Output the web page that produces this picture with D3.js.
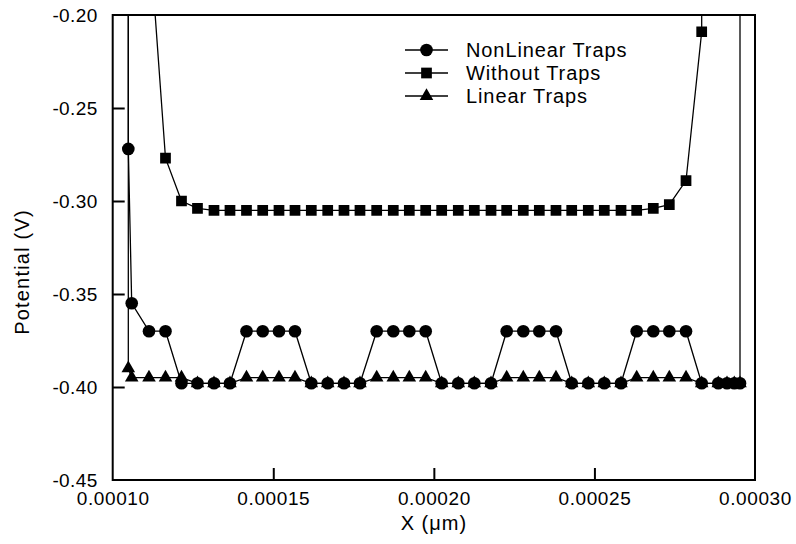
<!DOCTYPE html>
<html><head><meta charset="utf-8">
<script src="https://cdn.jsdelivr.net/npm/d3@7"></script>
<style>body{margin:0;background:#fff}svg{display:block}text{font-family:"Liberation Sans",Arial,sans-serif;fill:#000}</style>
</head><body><div id="c"></div>
<script>
// Data (x in µm units as labelled, y in V); 0.5 = value far above the visible range
const nonLinearX = [0.00010486,0.00010486,0.00010592,0.0001113,0.00011644,0.00012142,0.0001264,0.00013154,0.00013652,0.00014166,0.00014671,0.00015178,0.00015676,0.00016184,0.00016695,0.00017202,0.000177,0.0001822,0.00018737,0.00019236,0.00019746,0.00020244,0.00020761,0.0002126,0.0002178,0.00022268,0.00022785,0.00023284,0.00023803,0.00024293,0.00024809,0.00025307,0.00025828,0.00026316,0.00026833,0.00027332,0.00027852,0.0002834,0.00028857,0.00029128,0.00029355,0.00029533,0.00029533];
const nonLinearY = [0.5,-0.272,-0.355,-0.370,-0.370,-0.398,-0.398,-0.398,-0.398,-0.370,-0.370,-0.370,-0.370,-0.398,-0.398,-0.398,-0.398,-0.370,-0.370,-0.370,-0.370,-0.398,-0.398,-0.398,-0.398,-0.370,-0.370,-0.370,-0.370,-0.398,-0.398,-0.398,-0.398,-0.370,-0.370,-0.370,-0.370,-0.398,-0.398,-0.398,-0.398,-0.398,0.5];
const withoutX = [0.0001113,0.00011644,0.00012142,0.0001264,0.00013154,0.00013652,0.00014166,0.00014671,0.00015178,0.00015676,0.00016184,0.00016695,0.00017202,0.000177,0.0001822,0.00018737,0.00019236,0.00019746,0.00020244,0.00020761,0.0002126,0.0002178,0.00022268,0.00022785,0.00023284,0.00023803,0.00024293,0.00024809,0.00025307,0.00025828,0.00026316,0.00026833,0.00027332,0.00027852,0.0002834,0.0002836];
const withoutY = [-0.154,-0.277,-0.300,-0.304,-0.305,-0.305,-0.305,-0.305,-0.305,-0.305,-0.305,-0.305,-0.305,-0.305,-0.305,-0.305,-0.305,-0.305,-0.305,-0.305,-0.305,-0.305,-0.305,-0.305,-0.305,-0.305,-0.305,-0.305,-0.305,-0.305,-0.305,-0.304,-0.302,-0.289,-0.209,0.5];
const linearX = [0.00010486,0.00010486,0.00010592,0.0001113,0.00011644,0.00012142,0.0001264,0.00013154,0.00013652,0.00014166,0.00014671,0.00015178,0.00015676,0.00016184,0.00016695,0.00017202,0.000177,0.0001822,0.00018737,0.00019236,0.00019746,0.00020244,0.00020761,0.0002126,0.0002178,0.00022268,0.00022785,0.00023284,0.00023803,0.00024293,0.00024809,0.00025307,0.00025828,0.00026316,0.00026833,0.00027332,0.00027852,0.0002834,0.00028857,0.00029128,0.00029355,0.00029533];
const linearY = [0.5,-0.390,-0.395,-0.395,-0.395,-0.395,-0.398,-0.398,-0.398,-0.395,-0.395,-0.395,-0.395,-0.398,-0.398,-0.398,-0.398,-0.395,-0.395,-0.395,-0.395,-0.398,-0.398,-0.398,-0.398,-0.395,-0.395,-0.395,-0.395,-0.398,-0.398,-0.398,-0.398,-0.395,-0.395,-0.395,-0.395,-0.398,-0.398,-0.398,-0.398,-0.398];
const xTicks = [0.00010,0.00015,0.00020,0.00025,0.00030];
const yTicks = [-0.45,-0.40,-0.35,-0.30,-0.25,-0.20];
const seriesNames = ["NonLinear Traps","Without Traps","Linear Traps"];

const W=796,H=544, L=112.7, R=755, T=15, B=480;
const svg=d3.select("#c").append("svg").attr("width",W).attr("height",H);
const x=d3.scaleLinear().domain([0.0001,0.0003]).range([L,R]);
const y=d3.scaleLinear().domain([-0.45,-0.20]).range([B,T]);

svg.append("defs").append("clipPath").attr("id","clip").append("rect")
  .attr("x",L).attr("y",T).attr("width",R-L).attr("height",B-T);

const series=[
  {name:seriesNames[0], xs:nonLinearX, ys:nonLinearY, sym:d3.symbolCircle, size:125},
  {name:seriesNames[1], xs:withoutX, ys:withoutY, sym:d3.symbolSquare, size:115},
  {name:seriesNames[2], xs:linearX, ys:linearY, sym:d3.symbolTriangle, size:80}
];
const line=d3.line().x(d=>x(d[0])).y(d=>y(d[1]));
const g=svg.append("g").attr("clip-path","url(#clip)");
[2,1,0].forEach(i=>{
  const s=series[i];
  const pts=s.xs.map((v,k)=>[v,s.ys[k]]);
  g.append("path").datum(pts).attr("d",line).attr("fill","none").attr("stroke","#000").attr("stroke-width",1.3);
});
[2,1,0].forEach(i=>{
  const s=series[i];
  const pts=s.xs.map((v,k)=>[v,s.ys[k]]).filter(p=>p[1]<=-0.2);
  const sym=d3.symbol().type(s.sym).size(s.size);
  g.selectAll(null).data(pts).enter().append("path").attr("d",sym)
    .attr("transform",d=>`translate(${x(d[0])},${y(d[1])})`).attr("fill","#000");
});

// frame
svg.append("rect").attr("x",L).attr("y",T).attr("width",R-L).attr("height",B-T)
  .attr("fill","none").attr("stroke","#000").attr("stroke-width",2);

// axes with inward ticks
const xa=svg.append("g").attr("transform",`translate(0,${B})`)
  .call(d3.axisBottom(x).tickValues(xTicks).tickSize(-12).tickFormat(d3.format(".5f")));
xa.select(".domain").remove();
xa.selectAll("line").attr("stroke-width",2);
xa.selectAll("text").attr("font-size",19).attr("y",18).attr("dy","0.35em").attr("letter-spacing",0.6);
const ya=svg.append("g").attr("transform",`translate(${L},0)`)
  .call(d3.axisLeft(y).tickValues(yTicks).tickSize(-12).tickFormat(d3.format(".2f")));
ya.select(".domain").remove();
ya.selectAll("line").attr("stroke-width",2);
ya.selectAll("text").attr("font-size",19).attr("x",-15).attr("dy","0.35em").attr("letter-spacing",0.4);
ya.selectAll("text").text(d=>d3.format(".2f")(d).replace("\u2212","-"));
xa.selectAll(".tick line").filter(d=>d===xTicks[0]||d===xTicks[xTicks.length-1]).remove();
ya.selectAll(".tick line").filter(d=>d===yTicks[0]||d===yTicks[yTicks.length-1]).remove();

// axis titles
svg.append("text").attr("x",(L+R)/2).attr("y",530).attr("text-anchor","middle").attr("font-size",20)
  .attr("letter-spacing",1).text("X (\u03BCm)");
svg.append("text").attr("transform",`translate(29,272) rotate(-90)`).attr("text-anchor","middle")
  .attr("font-size",20).attr("letter-spacing",1.2).text("Potential (V)");

// legend
const lg=svg.append("g");
series.forEach((s,i)=>{
  const yy=50+i*23;
  lg.append("line").attr("x1",405).attr("x2",448).attr("y1",yy).attr("y2",yy).attr("stroke","#000").attr("stroke-width",1.3);
  lg.append("path").attr("d",d3.symbol().type(s.sym).size(s.size)).attr("transform",`translate(426.5,${yy})`);
  lg.append("text").attr("x",466).attr("y",yy).attr("dy","0.35em").attr("font-size",20).attr("letter-spacing",0.9).text(s.name);
});
</script></body></html>
